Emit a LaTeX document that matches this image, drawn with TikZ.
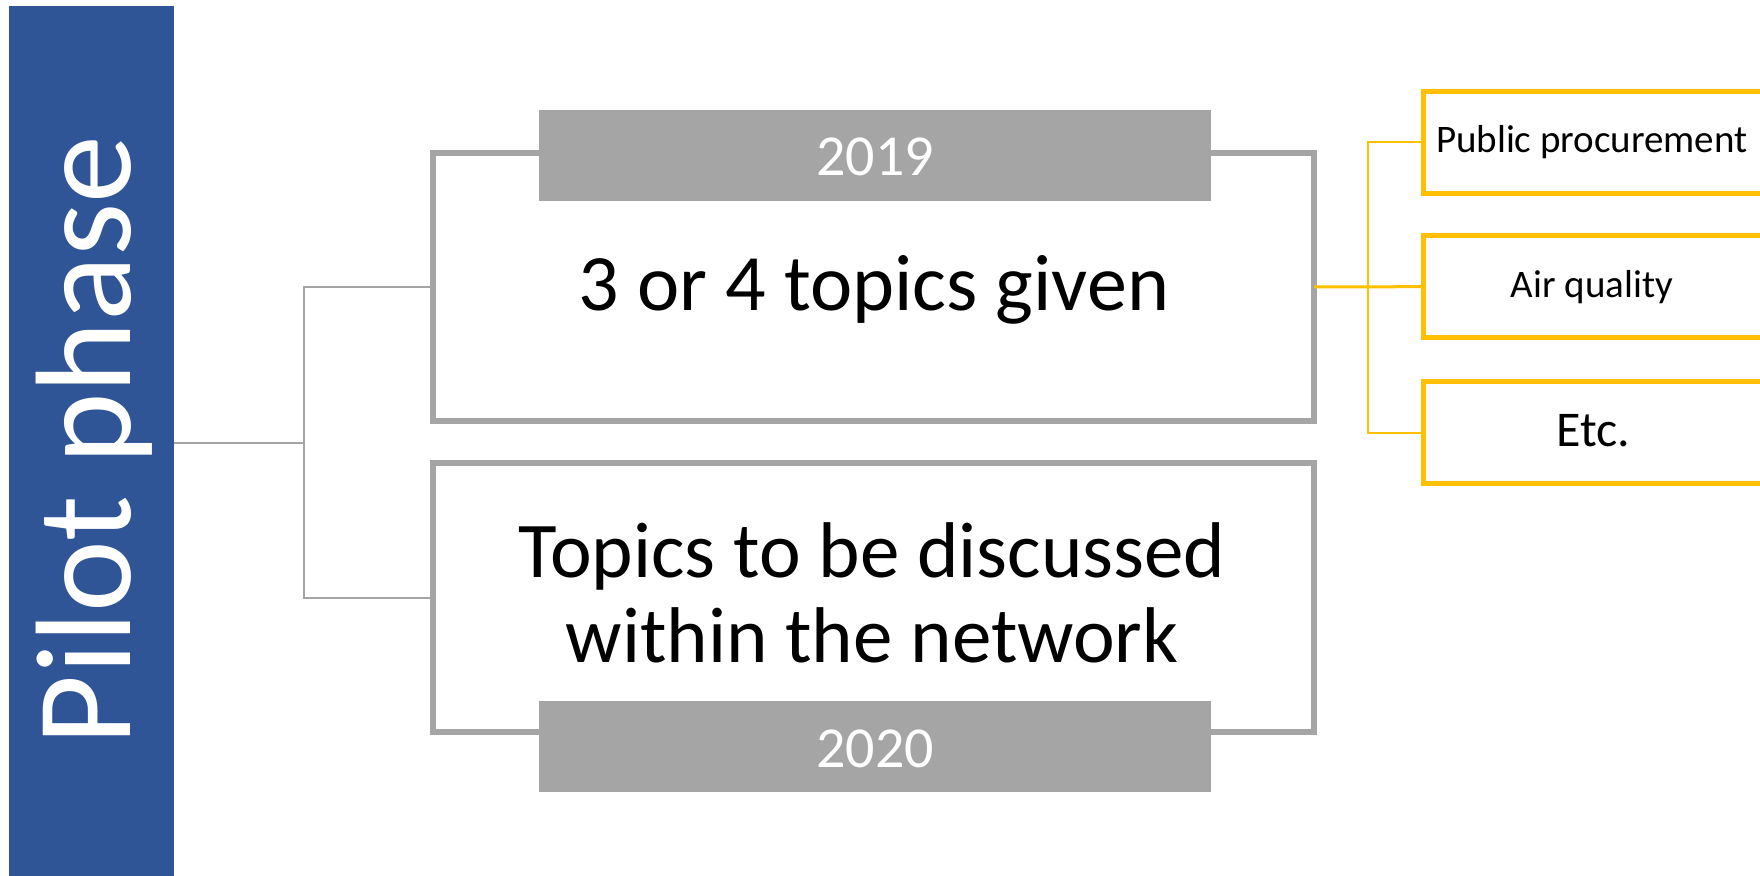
\documentclass[tikz,border=0pt]{standalone}
\usepackage{fontspec}
\setmainfont{Carlito}
\definecolor{pblue}{HTML}{2F5597}
\definecolor{pgray}{HTML}{A5A5A5}
\definecolor{pyellow}{HTML}{FFC000}
\tikzset{
  every node/.style={inner sep=0pt, outer sep=0pt},
  mainbox/.style={draw=pgray, line width=3pt, fill=white, rectangle, minimum width=440.5pt},
  yeartab/.style={fill=pgray, rectangle, minimum width=336pt, minimum height=45.5pt},
  topicbox/.style={draw=pyellow, line width=2.5pt, fill=white, rectangle, minimum width=171.25pt, minimum height=51pt},
  gline/.style={draw=pgray, line width=1pt},
  ythick/.style={draw=pyellow, line width=1.5pt},
  ythin/.style={draw=pyellow, line width=1pt},
}
\begin{document}
\begin{tikzpicture}[x=0.5pt, y=-0.5pt]
\useasboundingbox (0,0) rectangle (1760,876);
% left band
\node[fill=pblue, rectangle, minimum width=82.5pt, minimum height=437pt] (band) at (91.5,443) {};
\node[rotate=90, anchor=base, text=white, font=\fontsize{68}{80}\selectfont] (pilot) at (130,440.5) {Pilot phase};
% junctions
\coordinate (gj) at (304,443);
\coordinate (yj) at (1368,287);
% main boxes
\node[mainbox, minimum height=134pt] (box1) at (873.5,287) {};
\node[mainbox, minimum height=134.5pt] (box2) at (873.5,597.5) {};
% grey connectors
\draw[gline] (band.east) -- (gj);
\draw[gline] (gj) |- (box1.west);
\draw[gline] (gj) |- (box2.west);
% year tabs
\node[yeartab] (tab1) at (875,155.5) {};
\node[yeartab] (tab2) at (875,746.5) {};
\node[anchor=base, text=white, font=\fontsize{29}{34}\selectfont] (y2019) at (875,176) {2019};
\node[anchor=base, text=white, font=\fontsize{29}{34}\selectfont] (y2020) at (875,767) {2020};
% main texts
\node[anchor=base, font=\fontsize{40}{48}\selectfont] (t1) at (874,311) {3 or 4 topics given};
\node[anchor=base, font=\fontsize{39.5}{47}\selectfont] (t2a) at (872,577) {Topics to be discussed};
\node[anchor=base, font=\fontsize{39.5}{47}\selectfont] (t2b) at (872,662) {within the network};
% topic boxes
\node[topicbox] (ybA) at (1594.75,142.5) {};
\node[topicbox] (ybB) at (1594.75,286.5) {};
\node[topicbox] (ybC) at (1594.75,433) {};
% yellow connectors
\draw[ythick] (box1.east) -- (yj) -- (ybB.west);
\draw[ythin] (yj) |- (ybA.west);
\draw[ythin] (yj) |- (ybC.west);
% topic texts
\node[anchor=base west, font=\fontsize{19.5}{23}\selectfont] (tA) at (1436,153) {Public procurement};
\node[anchor=base, font=\fontsize{19.5}{23}\selectfont] (tB) at (1592,298) {Air quality};
\node[anchor=base, font=\fontsize{25}{30}\selectfont] (tC) at (1593,447) {Etc.};
\end{tikzpicture}
\end{document}
